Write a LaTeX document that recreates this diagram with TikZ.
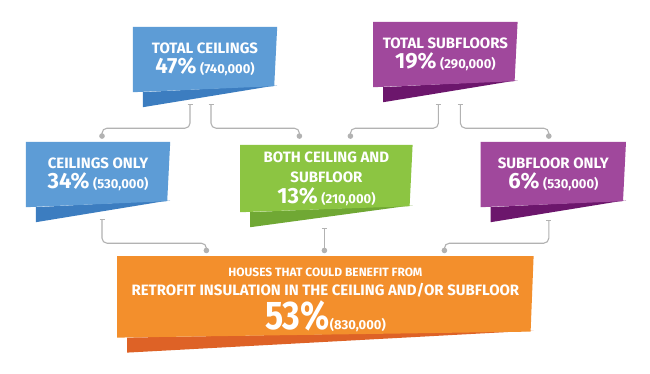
\documentclass[tikz,border=0pt]{standalone}
\usepackage{fontspec}
\setmainfont{Fira Sans}
\newfontfamily\condfont{Fira Sans}[FakeStretch=0.85]
\usepackage{tikz}
\usetikzlibrary{arrows.meta,positioning,calc,backgrounds}
\definecolor{blueL}{RGB}{93,156,214}
\definecolor{blueD}{RGB}{60,125,192}
\definecolor{purpL}{RGB}{160,72,156}
\definecolor{purpD}{RGB}{108,22,108}
\definecolor{grnL}{RGB}{140,197,66}
\definecolor{grnD}{RGB}{112,168,52}
\definecolor{orgL}{RGB}{243,143,44}
\definecolor{orgD}{RGB}{222,98,38}
\definecolor{lineG}{RGB}{178,178,178}
\tikzset{
  tag/.style={inner sep=0pt, text=white, align=center,
    font=\bfseries\fontsize{15}{20}\selectfont},
  conn/.style={{Bar[width=5pt,line width=1pt]}-{Circle[length=5.5pt]},
    draw=lineG, line width=1.1pt, rounded corners=5pt}
}
\newcommand{\pcfont}{\fontsize{22}{22}\selectfont}
\newcommand{\nmfont}{\fontsize{13}{13}\selectfont}
\newcommand{\ribbon}[3]{%
  \fill[#3] ([xshift=10pt]#1.south west) -- ([shift={(10,15)}]#1.south west)
    -- ([shift={(0,-7)}]#1.south east) -- cycle;
  \fill[#2] (#1.north west) -- (#1.north east)
    -- ([shift={(-3,-6)}]#1.south east) -- (#1.south west) -- cycle;}

\begin{document}
\begin{tikzpicture}[x=1pt,y=-1pt]
  \useasboundingbox (0,0) rectangle (650,373);

  \node[tag, minimum width=144pt, minimum height=65pt] (tc) at (205,59.5)
    {TOTAL CEILINGS\\{\pcfont 47\%} {\nmfont (740,000)}};
  \node[tag, minimum width=144pt, minimum height=65pt, right=96pt of tc, yshift=5pt] (ts)
    {TOTAL SUBFLOORS\\{\pcfont 19\%} {\nmfont (290,000)}};
  \node[tag, minimum width=144pt, minimum height=65pt] (co) at (98,174.5)
    {CEILINGS ONLY\\{\pcfont 34\%} {\nmfont (530,000)}};
  \node[tag, minimum width=172pt, minimum height=67pt, right=70pt of co, yshift=-4pt] (bo)
    {BOTH CEILING AND\\SUBFLOOR\\[1pt]{\pcfont 13\%} {\nmfont (210,000)}};
  \node[tag, minimum width=145pt, minimum height=65pt, right=68pt of bo, yshift=4pt] (so)
    {SUBFLOOR ONLY\\{\pcfont 6\%} {\nmfont (530,000)}};
  \node[tag, minimum width=416pt, minimum height=81pt, below=44pt of bo, xshift=-1pt,
    font=\bfseries\fontsize{15}{19}\selectfont] (hb)
    {{\fontsize{12}{12}\selectfont\rule{0pt}{15pt}HOUSES THAT COULD BENEFIT FROM}\\
     RETROFIT INSULATION IN THE CEILING AND/OR SUBFLOOR\\[3pt]
     {\condfont\fontsize{40}{40}\selectfont 53\%}{\fontsize{13}{13}\selectfont (830,000)}};

  \begin{scope}[on background layer]
    \fill[white] (0,0) rectangle (650,373);
    \ribbon{tc}{blueL}{blueD}
    \ribbon{ts}{purpL}{purpD}
    \ribbon{co}{blueL}{blueD}
    \ribbon{bo}{grnL}{grnD}
    \ribbon{so}{purpL}{purpD}
    \ribbon{hb}{orgL}{orgD}
  \end{scope}

  \draw[conn] ([shift={(-15,12)}]tc.south) -- ++(0,24) -| ([shift={(4,-3)}]co.north);
  \draw[conn] ([shift={(6,12)}]tc.south) -- ++(0,24) -| ([shift={(-27,-6)}]bo.north);
  \draw[conn] ([shift={(-7,17)}]ts.south) -- ++(0,24) -| ([shift={(24,-6)}]bo.north);
  \draw[conn] ([shift={(15,17)}]ts.south) -- ++(0,24) -| ([shift={(-4.5,-3)}]so.north);
  \draw[conn] ([shift={(4,12)}]co.south) -- ++(0,24) -| ([shift={(-119,-3)}]hb.north);
  \draw[conn] ([shift={(-2,16)}]bo.south) -- ([shift={(-1,-3)}]hb.north);
  \draw[conn] ([shift={(-4.5,13)}]so.south) -- ++(0,23) -| ([shift={(119,-3)}]hb.north);
\end{tikzpicture}
\end{document}
